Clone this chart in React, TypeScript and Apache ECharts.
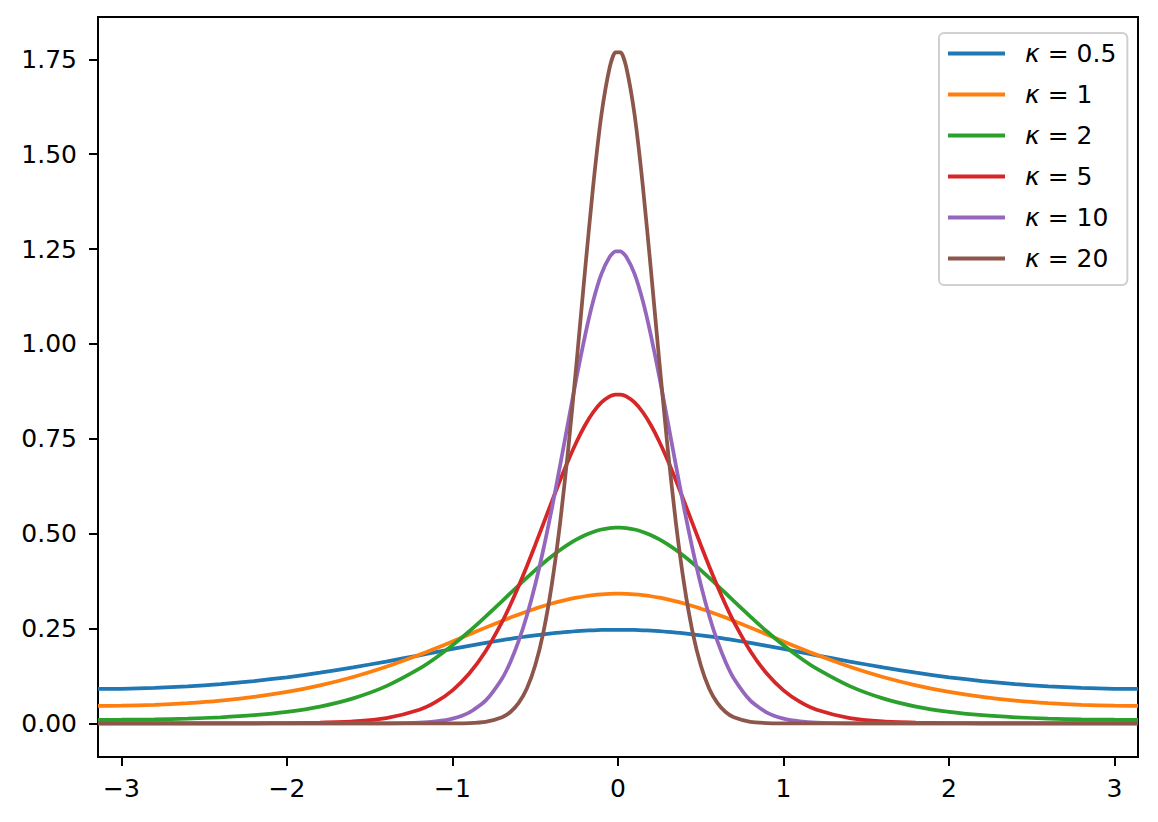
import React, { useEffect, useRef } from "react";
import * as echarts from "echarts";

// x sample positions (radians)
const xValues = [
  -3.1416, -3.0, -2.8, -2.6, -2.4, -2.2, -2.0, -1.8, -1.6, -1.4, -1.2, -1.1, -1.0, -0.9, -0.8,
  -0.7, -0.65, -0.6, -0.55, -0.5, -0.45, -0.4, -0.35, -0.3, -0.25, -0.2, -0.15, -0.1, -0.05, -0.0158,
  0.0158, 0.05, 0.1, 0.15, 0.2, 0.25, 0.3, 0.35, 0.4, 0.45, 0.5, 0.55, 0.6, 0.65, 0.7,
  0.8, 0.9, 1.0, 1.1, 1.2, 1.4, 1.6, 1.8, 2.0, 2.2, 2.4, 2.6, 2.8, 3.0, 3.1416,
];

const kappaLabels = ["0.5", "1", "2", "5", "10", "20"];

const pdfK05 = [
  0.0908, 0.0912, 0.0934, 0.0975, 0.1035, 0.1115, 0.1215, 0.1336, 0.1475, 0.1629, 0.1794, 0.1878, 0.1961, 0.2042, 0.2120,
  0.2194, 0.2228, 0.2261, 0.2292, 0.2321, 0.2348, 0.2372, 0.2394, 0.2413, 0.2429, 0.2443, 0.2454, 0.2461, 0.2466, 0.2467,
  0.2467, 0.2466, 0.2461, 0.2454, 0.2443, 0.2429, 0.2413, 0.2394, 0.2372, 0.2348, 0.2321, 0.2292, 0.2261, 0.2228, 0.2194,
  0.2120, 0.2042, 0.1961, 0.1878, 0.1794, 0.1629, 0.1475, 0.1336, 0.1215, 0.1115, 0.1035, 0.0975, 0.0934, 0.0912, 0.0908,
];
const pdfK1 = [
  0.0462, 0.0467, 0.0490, 0.0534, 0.0601, 0.0698, 0.0829, 0.1002, 0.1221, 0.1490, 0.1806, 0.1979, 0.2158, 0.2341, 0.2523,
  0.2701, 0.2787, 0.2869, 0.2949, 0.3023, 0.3093, 0.3158, 0.3216, 0.3268, 0.3313, 0.3350, 0.3379, 0.3400, 0.3413, 0.3417,
  0.3417, 0.3413, 0.3400, 0.3379, 0.3350, 0.3313, 0.3268, 0.3216, 0.3158, 0.3093, 0.3023, 0.2949, 0.2869, 0.2787, 0.2701,
  0.2523, 0.2341, 0.2158, 0.1979, 0.1806, 0.1490, 0.1221, 0.1002, 0.0829, 0.0698, 0.0601, 0.0534, 0.0490, 0.0467, 0.0462,
];
const pdfK2 = [
  0.0094, 0.0096, 0.0106, 0.0126, 0.0160, 0.0215, 0.0304, 0.0443, 0.0659, 0.0981, 0.1441, 0.1730, 0.2057, 0.2420, 0.2813,
  0.3223, 0.3431, 0.3638, 0.3841, 0.4038, 0.4227, 0.4405, 0.4570, 0.4718, 0.4848, 0.4957, 0.5044, 0.5108, 0.5146, 0.5158,
  0.5158, 0.5146, 0.5108, 0.5044, 0.4957, 0.4848, 0.4718, 0.4570, 0.4405, 0.4227, 0.4038, 0.3841, 0.3638, 0.3431, 0.3223,
  0.2813, 0.2420, 0.2057, 0.1730, 0.1441, 0.0981, 0.0659, 0.0443, 0.0304, 0.0215, 0.0160, 0.0126, 0.0106, 0.0096, 0.0094,
];
const pdfK5 = [
  0.0000, 0.0000, 0.0001, 0.0001, 0.0001, 0.0003, 0.0007, 0.0019, 0.0050, 0.0137, 0.0358, 0.0564, 0.0871, 0.1307, 0.1903,
  0.2676, 0.3128, 0.3621, 0.4148, 0.4702, 0.5271, 0.5844, 0.6404, 0.6936, 0.7423, 0.7849, 0.8198, 0.8457, 0.8617, 0.8666,
  0.8666, 0.8617, 0.8457, 0.8198, 0.7849, 0.7423, 0.6936, 0.6404, 0.5844, 0.5271, 0.4702, 0.4148, 0.3621, 0.3128, 0.2676,
  0.1903, 0.1307, 0.0871, 0.0564, 0.0358, 0.0137, 0.0050, 0.0019, 0.0007, 0.0003, 0.0001, 0.0001, 0.0001, 0.0000, 0.0000,
];
const pdfK10 = [
  0.0000, 0.0000, 0.0000, 0.0000, 0.0000, 0.0000, 0.0000, 0.0000, 0.0000, 0.0003, 0.0021, 0.0053, 0.0126, 0.0283, 0.0600,
  0.1185, 0.1620, 0.2171, 0.2849, 0.3660, 0.4601, 0.5654, 0.6790, 0.7965, 0.9124, 1.0200, 1.1128, 1.1843, 1.2296, 1.2435,
  1.2435, 1.2296, 1.1843, 1.1128, 1.0200, 0.9124, 0.7965, 0.6790, 0.5654, 0.4601, 0.3660, 0.2849, 0.2171, 0.1620, 0.1185,
  0.0600, 0.0283, 0.0126, 0.0053, 0.0021, 0.0003, 0.0000, 0.0000, 0.0000, 0.0000, 0.0000, 0.0000, 0.0000, 0.0000, 0.0000,
];
const pdfK20 = [
  0.0000, 0.0000, 0.0000, 0.0000, 0.0000, 0.0000, 0.0000, 0.0000, 0.0000, 0.0000, 0.0000, 0.0000, 0.0002, 0.0009, 0.0041,
  0.0161, 0.0300, 0.0539, 0.0928, 0.1532, 0.2421, 0.3656, 0.5273, 0.7256, 0.9520, 1.1899, 1.4161, 1.6042, 1.7290, 1.7683,
  1.7683, 1.7290, 1.6042, 1.4161, 1.1899, 0.9520, 0.7256, 0.5273, 0.3656, 0.2421, 0.1532, 0.0928, 0.0539, 0.0300, 0.0161,
  0.0041, 0.0009, 0.0002, 0.0000, 0.0000, 0.0000, 0.0000, 0.0000, 0.0000, 0.0000, 0.0000, 0.0000, 0.0000, 0.0000, 0.0000,
];

const xTicks = [-3, -2, -1, 0, 1, 2, 3];
const yTicks = [0, 0.25, 0.5, 0.75, 1.0, 1.25, 1.5, 1.75];
const Y_MIN = -0.0886;
const Y_MAX = 1.8614;

const colors = ["#1f77b4", "#ff7f0e", "#2ca02c", "#d62728", "#9467bd", "#8c564b"];
const FONT = "DejaVu Sans";

export default function App() {
  const ref = useRef<HTMLDivElement>(null);

  useEffect(() => {
    if (!ref.current) return;
    const chart = echarts.init(ref.current, null, { renderer: "svg" });
    const allSeries = [pdfK05, pdfK1, pdfK2, pdfK5, pdfK10, pdfK20];

    chart.setOption({
      animation: false,
      backgroundColor: "#ffffff",
      textStyle: { fontFamily: FONT },
      grid: {
        left: 98,
        top: 17,
        width: 1040,
        height: 740,
        show: true,
        borderColor: "#000000",
        borderWidth: 2,
        backgroundColor: "transparent",
      },
      xAxis: {
        type: "value",
        min: -Math.PI,
        max: Math.PI,
        splitLine: { show: false },
        axisLine: { show: true, onZero: false, lineStyle: { color: "#000", width: 2 } },
        axisTick: { show: true, length: 9, lineStyle: { color: "#000", width: 2 }, customValues: xTicks },
        axisLabel: {
          customValues: xTicks,
          fontSize: 25,
          fontFamily: FONT,
          color: "#000",
          margin: 19,
          formatter: (v: number) => (v < 0 ? "\u2212" + Math.abs(v) : String(v)),
        },
      },
      yAxis: {
        type: "value",
        min: Y_MIN,
        max: Y_MAX,
        splitLine: { show: false },
        axisLine: { show: true, onZero: false, lineStyle: { color: "#000", width: 2 } },
        axisTick: { show: true, length: 9, lineStyle: { color: "#000", width: 2 }, customValues: yTicks },
        axisLabel: {
          customValues: yTicks,
          fontSize: 25,
          fontFamily: FONT,
          color: "#000",
          margin: 21,
          formatter: (v: number) => v.toFixed(2),
        },
      },
      legend: {
        orient: "vertical",
        left: 939,
        top: 33,
        padding: [8, 11, 14, 9],
        icon: "rect",
        itemWidth: 57,
        itemHeight: 4,
        itemGap: 16,
        backgroundColor: "rgba(255,255,255,0.8)",
        borderColor: "#d0d0d0",
        borderWidth: 2,
        borderRadius: 5,
        data: kappaLabels.map((k) => "κ = " + k),
        formatter: (name: string) => "{k|κ}{r| = " + name.split("=")[1].trim() + "}",
        textStyle: {
          fontFamily: FONT,
          fontSize: 25,
          color: "#000",
          rich: {
            k: { fontFamily: FONT, fontSize: 25, fontStyle: "italic", color: "#000", lineHeight: 25, padding: [0, 0, 0, 15] },
            r: { fontFamily: FONT, fontSize: 25, color: "#000", lineHeight: 25 },
          },
        },
      },
      series: allSeries.map((vals, i) => ({
        name: "κ = " + kappaLabels[i],
        type: "line",
        data: xValues.map((x, j) => [x, vals[j]]),
        symbol: "none",
        showSymbol: false,
        smooth: 0.2,
        clip: true,
        color: colors[i],
        itemStyle: { color: colors[i] },
        lineStyle: { color: colors[i], width: 3.75 },
      })),
    });

    return () => chart.dispose();
  }, []);

  return (
    <div
      ref={ref}
      style={{ position: "fixed", left: 0, top: 0, width: 1158, height: 822, background: "#fff" }}
    />
  );
}
